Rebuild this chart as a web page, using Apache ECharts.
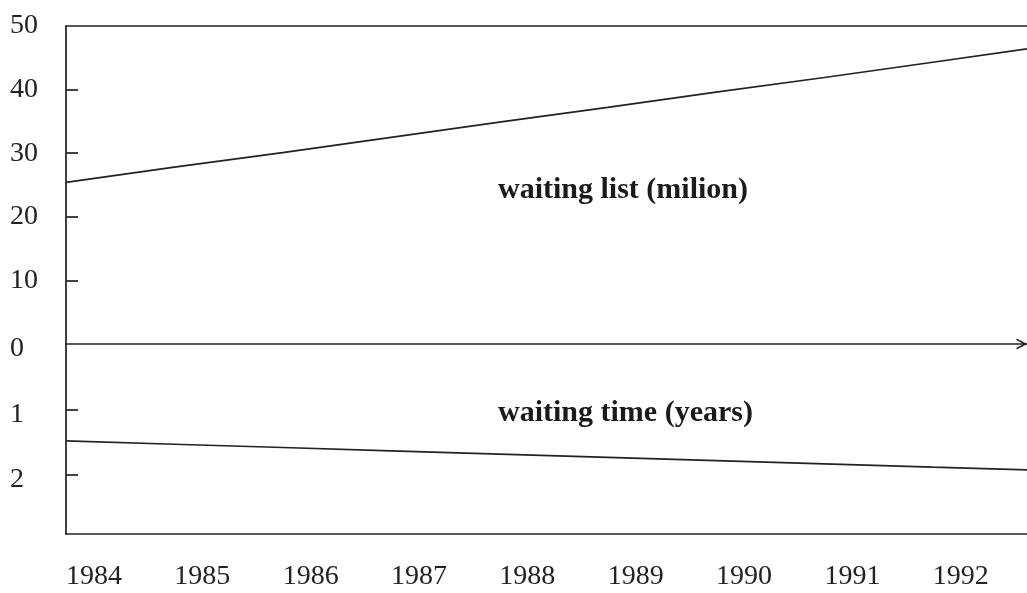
<!DOCTYPE html>
<html>
<head>
<meta charset="utf-8">
<script src="https://cdn.jsdelivr.net/npm/echarts@6/dist/echarts.min.js"></script>
<style>
html,body{margin:0;padding:0;background:#fff;}
#chart{width:1027px;height:593px;}
</style>
</head>
<body>
<div id="chart"></div>
<script>
// ---- data ----
var years = [1984, 1985, 1986, 1987, 1988, 1989, 1990, 1991, 1992];
var waitingList = [25.4, 27.8, 30.1, 32.5, 34.9, 37.2, 39.6, 41.9, 44.3];   // million
var waitingTime = [1.48, 1.53, 1.58, 1.63, 1.68, 1.73, 1.78, 1.83, 1.88];   // years
// visible end of the lines at the right edge of the plot
var endYear = 1992.87;
var waitingListEnd = 46.4;
var waitingTimeEnd = 1.92;
var listTicks = [10, 20, 30, 40];
var listLabels = [10, 20, 30, 40, 50];
var timeTicks = [1, 2];
var timeLabels = [0, 1, 2];
var listLabel = 'waiting list (milion)';
var timeLabel = 'waiting time (years)';

var INK = '#222222';
var FONT = '"Liberation Serif", "DejaVu Serif", serif';

function pairs(xs, ys, xe, ye) {
  var out = xs.map(function (x, i) { return [x, ys[i]]; });
  out.push([xe, ye]);
  return out;
}

var chart = echarts.init(document.getElementById('chart'), null, {renderer: 'canvas'});
chart.setOption({
  animation: false,
  backgroundColor: '#ffffff',
  grid: [
    {left: 66, right: 0, top: 26, height: 318},
    {left: 66, right: 0, top: 344, height: 190}
  ],
  xAxis: [
    { // middle line with arrow
      gridIndex: 0, type: 'value', min: years[0], max: endYear, position: 'bottom',
      axisLine: {show: true, lineStyle: {color: INK, width: 1.7},
        symbol: ['none', 'path://M0,10 L5,0 L10,10 L8.3,10 L5,3.4 L1.7,10 Z'],
        symbolSize: [15, 11], symbolOffset: [0, -5]},
      axisTick: {show: false}, axisLabel: {show: false}, splitLine: {show: false}
    },
    { // bottom axis with year labels
      gridIndex: 1, type: 'value', min: years[0], max: endYear, interval: 1, position: 'bottom',
      axisLine: {show: true, onZero: false, lineStyle: {color: INK, width: 1.7}},
      axisTick: {show: false},
      axisLabel: {show: true, customValues: years, align: 'left', margin: 29,
        fontFamily: FONT, fontSize: 28, color: INK,
        formatter: function (v) { return String(v); }},
      splitLine: {show: false}
    },
    { // top border line
      gridIndex: 0, type: 'value', min: years[0], max: endYear, position: 'top',
      axisLine: {show: true, onZero: false, lineStyle: {color: INK, width: 1.7}},
      axisTick: {show: false}, axisLabel: {show: false}, splitLine: {show: false}
    }
  ],
  yAxis: [
    {
      gridIndex: 0, type: 'value', min: 0, max: 50, interval: 10,
      axisLine: {show: true, lineStyle: {color: INK, width: 1.7}},
      axisTick: {show: true, inside: true, length: 12, customValues: listTicks,
        lineStyle: {color: INK, width: 1.7}},
      axisLabel: {show: true, customValues: listLabels, align: 'left', margin: 56,
        fontFamily: FONT, fontSize: 28, color: INK},
      splitLine: {show: false}
    },
    {
      gridIndex: 1, type: 'value', min: 0, max: 2.9, interval: 1, inverse: true,
      axisLine: {show: true, lineStyle: {color: INK, width: 1.7}},
      axisTick: {show: true, inside: true, length: 12, customValues: timeTicks,
        lineStyle: {color: INK, width: 1.7}},
      axisLabel: {show: true, customValues: timeLabels, align: 'left', margin: 56,
        verticalAlign: 'top', lineHeight: 10,
        fontFamily: FONT, fontSize: 28, color: INK},
      splitLine: {show: false}
    }
  ],
  series: [
    {
      type: 'line', xAxisIndex: 0, yAxisIndex: 0, symbol: 'none', silent: true,
      data: pairs(years, waitingList, endYear, waitingListEnd),
      lineStyle: {color: INK, width: 1.7}
    },
    {
      type: 'line', xAxisIndex: 1, yAxisIndex: 1, symbol: 'none', silent: true,
      data: pairs(years, waitingTime, endYear, waitingTimeEnd),
      lineStyle: {color: INK, width: 1.7}
    }
  ],
  graphic: [
    {type: 'text', left: 498, top: 175,
      style: {text: listLabel, fontFamily: FONT, fontWeight: 'bold', fontSize: 30, fill: '#1a1a1a'}},
    {type: 'text', left: 498, top: 398,
      style: {text: timeLabel, fontFamily: FONT, fontWeight: 'bold', fontSize: 30, fill: '#1a1a1a'}}
  ]
});
</script>
</body>
</html>
